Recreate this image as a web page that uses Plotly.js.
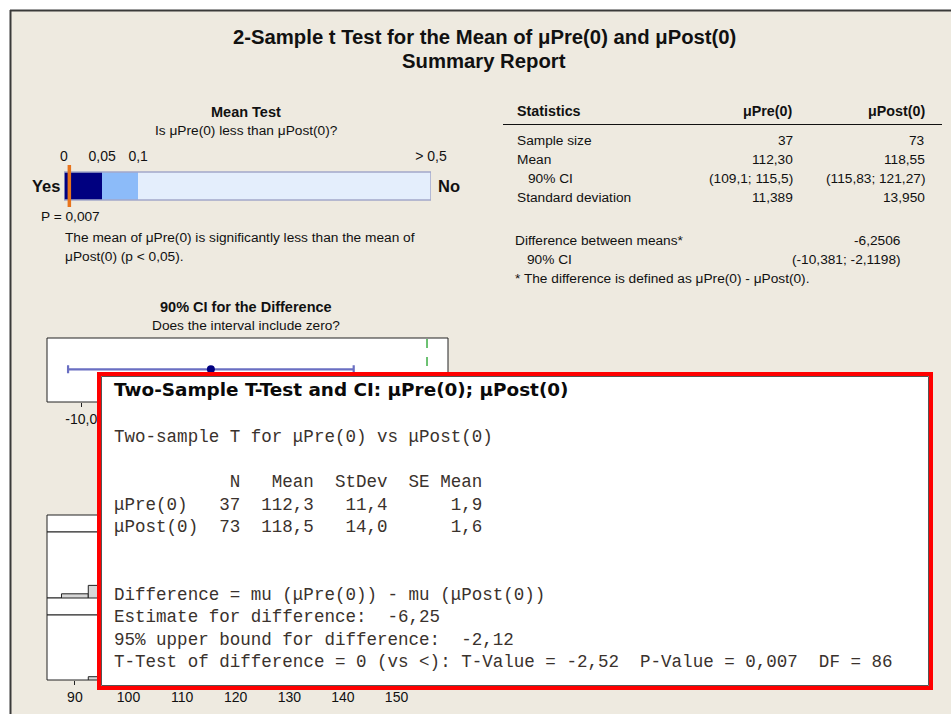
<!DOCTYPE html>
<html>
<head>
<meta charset="utf-8">
<script src="https://cdn.plot.ly/plotly-3.0.1.min.js"></script>
<style>html,body{margin:0;padding:0;background:#fff;}</style>
</head>
<body>
<div id="chart" style="width:951px;height:714px;"></div>
<script>
// ---------------- DATA ----------------
const pTicks = [0, 0.05, 0.1, 0.5];
const pTickLabels = ['0', '0,05', '0,1', '> 0,5'];
const pValue = 0.007;

const diffEstimate = -6.2506;
const diffCI = [-10.381, -2.1198];
const ciTickVals = [-10, -7.5, -5, -2.5, 0];
const ciTickText = ['-10,0', '-7,5', '-5,0', '-2,5', '0,0'];

const statHeaders = ['Statistics', 'μPre(0)', 'μPost(0)'];
const statLabels = ['Sample size', 'Mean', '90% CI', 'Standard deviation'];
const preStats = ['37', '112,30', '(109,1; 115,5)', '11,389'];
const postStats = ['73', '118,55', '(115,83; 121,27)', '13,950'];
const diffLabels = ['Difference between means*', '90% CI'];
const diffValues = ['-6,2506', '(-10,381; -2,1198)'];

const preHistBins = [90, 95];
const preHistCounts = [1, 3];
const postHistBins = [95];
const postHistCounts = [1];
const distTickVals = [90, 100, 110, 120, 130, 140, 150];

const sessionLines = [
  'Two-sample T for μPre(0) vs μPost(0)',
  '',
  '           N   Mean  StDev  SE Mean',
  'μPre(0)   37  112,3   11,4      1,9',
  'μPost(0)  73  118,5   14,0      1,6',
  '',
  '',
  'Difference = mu (μPre(0)) - mu (μPost(0))',
  'Estimate for difference:  -6,25',
  '95% upper bound for difference:  -2,12',
  'T-Test of difference = 0 (vs <): T-Value = -2,52  P-Value = 0,007  DF = 86'
];

// ---------------- LAYOUT HELPERS ----------------
const W = 951, H = 714;
const X = x => x / W;
const Y = y => 1 - y / H;
const SANS = 'Liberation Sans, Arial, sans-serif';
const MONO = 'Liberation Mono, Courier New, monospace';
const BEIGE = '#EEEAE0';
const BODY = 13.7;

// display scale of the p-value bar (Minitab's non-linear scale)
const pScale = [0, 0.104, 0.202, 1];
function pToPos(p) {
  for (let i = 0; i < pTicks.length - 1; i++) {
    if (p <= pTicks[i + 1]) {
      const t = (p - pTicks[i]) / (pTicks[i + 1] - pTicks[i]);
      return pScale[i] + t * (pScale[i + 1] - pScale[i]);
    }
  }
  return 1;
}

const annotations = [];
function ann(text, x, y, o) {
  o = o || {};
  annotations.push({
    text: text, x: X(x), y: Y(y), xref: 'paper', yref: 'paper',
    xanchor: o.anchor || 'left', yanchor: 'middle', showarrow: false,
    borderpad: 0,
    font: { family: o.family || SANS, size: o.size || BODY, color: o.color || '#111' }
  });
}
const b = t => '<b>' + t + '</b>';

// Title
ann(b('2-Sample t Test for the Mean of μPre(0) and μPost(0)'), 484, 37, { anchor: 'center', size: 20.3 });
ann(b('Summary Report'), 484, 61, { anchor: 'center', size: 20.3 });

// Mean test
ann(b('Mean Test'), 246, 112, { anchor: 'center', size: 14.5 });
ann('Is μPre(0) less than μPost(0)?', 246, 130, { anchor: 'center' });
ann(b('Yes'), 46, 186, { anchor: 'center', size: 16.5 });
ann(b('No'), 449, 186, { anchor: 'center', size: 16.5 });
ann('P = ' + String(pValue).replace('.', ','), 40, 216);
ann('The mean of μPre(0) is significantly less than the mean of', 64, 238);
ann('μPost(0) (p &lt; 0,05).', 64, 256);

// Statistics table
ann(b(statHeaders[0]), 516, 111, { size: 14.3 });
ann(b(statHeaders[1]), 794, 111, { anchor: 'right', size: 14.3 });
ann(b(statHeaders[2]), 926, 111, { anchor: 'right', size: 14.3 });
const rowY = [141, 159, 178, 197];
statLabels.forEach((l, i) => {
  ann(l, i === 2 ? 527 : 516, rowY[i]);
  ann(preStats[i], 794, rowY[i], { anchor: 'right' });
  ann(postStats[i], 926, rowY[i], { anchor: 'right' });
});
ann(diffLabels[0], 514, 240);
ann(diffValues[0], 902, 240, { anchor: 'right' });
ann(diffLabels[1], 526, 259);
ann(diffValues[1], 902, 259, { anchor: 'right' });
ann('* The difference is defined as μPre(0) - μPost(0).', 514, 279);

// CI section
ann(b('90% CI for the Difference'), 246, 307, { anchor: 'center', size: 14.5 });
ann('Does the interval include zero?', 246, 326, { anchor: 'center' });

// Session window overlay text
ann(b('Two-Sample T-Test and CI: μPre(0); μPost(0)'), 113, 390,
    { family: 'DejaVu Sans, Liberation Sans, sans-serif', size: 18.4, color: '#0a0a0a' });
const lineY0 = 437, lineStep = 22.5;
sessionLines.forEach((s, i) => {
  if (!s) return;
  ann(s.replace(/ /g, '\u00A0').replace(/</g, '&lt;'), 113, lineY0 + i * lineStep,
      { family: MONO, size: 17.55, color: '#3a322d' });
});

// ---------------- SHAPES ----------------
const shapes = [];
function rect(x0, y0, x1, y1, fill, line, lw, layer) {
  shapes.push({ type: 'rect', xref: 'paper', yref: 'paper', x0: X(x0), x1: X(x1), y0: Y(y1), y1: Y(y0),
    fillcolor: fill, line: { color: line || 'rgba(0,0,0,0)', width: lw || 0 }, layer: layer || 'below' });
}
function hline(x0, x1, y, color, w, layer) {
  shapes.push({ type: 'line', xref: 'paper', yref: 'paper', x0: X(x0), x1: X(x1), y0: Y(y), y1: Y(y),
    line: { color: color, width: w }, layer: layer || 'below' });
}
function vline(x, y0, y1, color, w, layer) {
  shapes.push({ type: 'line', xref: 'paper', yref: 'paper', x0: X(x), x1: X(x), y0: Y(y0), y1: Y(y1),
    line: { color: color, width: w }, layer: layer || 'below' });
}
// white margins outside the report panel
rect(0, 0, 951, 10, '#ffffff');
rect(0, 0, 10, 714, '#ffffff');
hline(10, 951, 10.5, '#3a3a3a', 2);
vline(10.5, 10, 714, '#3a3a3a', 2);

// statistics header rule
hline(503, 942, 124.5, '#111', 1);

// CI plot box
rect(47, 338, 448, 402, '#ffffff', '#222', 1);
// zero reference
shapes.push({ type: 'line', xref: 'x2', yref: 'paper', x0: 0, x1: 0, y0: Y(402), y1: Y(338),
  line: { color: '#3DAE45', width: 1.5, dash: 'dash' }, layer: 'below' });

// Distribution panel boxes
rect(47, 515, 448, 532, '#ffffff', '#222', 1);
rect(47, 532, 448, 598, '#ffffff', '#222', 1);
rect(47, 598, 448, 615, '#ffffff', '#222', 1);
rect(47, 615, 448, 680, '#ffffff', '#222', 1);

// Session window overlay (on top)
rect(99, 374, 931, 688, '#ffffff', '#FF0000', 4, 'above');
rect(101.5, 376.5, 928.5, 685.5, 'rgba(0,0,0,0)', '#555555', 1, 'above');

// ---------------- TRACES ----------------
const traces = [];
// Mean test bar segments
const segBase = [], segLen = [], segY = [];
for (let i = 0; i < pTicks.length - 1; i++) {
  segBase.push(pToPos(pTicks[i]));
  segLen.push(pToPos(pTicks[i + 1]) - pToPos(pTicks[i]));
  segY.push(0);
}
traces.push({
  type: 'bar', orientation: 'h', xaxis: 'x', yaxis: 'y',
  y: segY, x: segLen, base: segBase, width: 1,
  marker: { color: ['#000080', '#8CBBF9', '#E4EEFC'], line: { width: 0 } },
  hoverinfo: 'skip'
});
traces.push({
  type: 'bar', orientation: 'h', xaxis: 'x', yaxis: 'y',
  y: [0], x: [pToPos(pTicks[pTicks.length - 1])], base: [0], width: 1,
  marker: { color: 'rgba(0,0,0,0)', line: { color: '#A3A8C9', width: 1.5 } },
  hoverinfo: 'skip'
});
traces.push({
  type: 'scatter', mode: 'lines', xaxis: 'x', yaxis: 'y',
  x: [pToPos(pValue), pToPos(pValue)], y: [-0.75, 0.75],
  line: { color: '#E8741C', width: 3.5 }, hoverinfo: 'skip'
});

// CI for difference
traces.push({
  type: 'scatter', mode: 'markers', xaxis: 'x2', yaxis: 'y2',
  x: [diffEstimate], y: [0],
  marker: { color: '#000080', size: 8 },
  error_x: { type: 'data', symmetric: false,
    array: [diffCI[1] - diffEstimate], arrayminus: [diffEstimate - diffCI[0]],
    color: '#6A6FC2', thickness: 2.2, width: 4 },
  hoverinfo: 'skip'
});

// Histograms
traces.push({
  type: 'bar', xaxis: 'x3', yaxis: 'y4', x: preHistBins, y: preHistCounts, width: 5,
  marker: { color: '#D6D6D6', line: { color: '#222', width: 1 } }, hoverinfo: 'skip'
});
traces.push({
  type: 'bar', xaxis: 'x3', yaxis: 'y6', x: postHistBins, y: postHistCounts, width: 5,
  marker: { color: '#D6D6D6', line: { color: '#222', width: 1 } }, hoverinfo: 'skip'
});

const tickFont = { family: SANS, size: 14, color: '#111' };
const layout = {
  width: W, height: H,
  margin: { l: 0, r: 0, t: 0, b: 0, pad: 0 },
  paper_bgcolor: BEIGE, plot_bgcolor: 'rgba(0,0,0,0)',
  showlegend: false, barmode: 'overlay', bargap: 0,
  font: { family: SANS, size: 13, color: '#111' },
  xaxis: {
    domain: [X(64), X(431)], range: [0, 1], anchor: 'y', side: 'top',
    tickmode: 'array', tickvals: pTicks.map(pToPos), ticktext: pTickLabels,
    ticks: '', showgrid: false, zeroline: false, showline: false,
    tickfont: tickFont, ticklabelstandoff: 0, fixedrange: true
  },
  yaxis: { domain: [Y(207), Y(165)], range: [-0.75, 0.75], visible: false, fixedrange: true },
  xaxis2: {
    domain: [X(47), X(448)], range: [-10.99, 0.607], anchor: 'y2',
    tickmode: 'array', tickvals: ciTickVals, ticktext: ciTickText,
    ticks: 'outside', ticklen: 4, tickcolor: '#222', showgrid: false, zeroline: false, showline: false,
    tickfont: tickFont, fixedrange: true
  },
  yaxis2: { domain: [Y(402), Y(338)], range: [-1.04, 1], visible: false, fixedrange: true },
  xaxis3: {
    domain: [X(47), X(448)], range: [84.8, 159.6], anchor: 'y6',
    tickmode: 'array', tickvals: distTickVals,
    ticks: 'outside', ticklen: 4, tickcolor: '#222', showgrid: false, zeroline: false, showline: false,
    tickfont: tickFont, fixedrange: true
  },
  yaxis4: { domain: [Y(598), Y(532)], range: [0, 15.7], anchor: 'x3', visible: false, fixedrange: true },
  yaxis6: { domain: [Y(680), Y(615)], range: [0, 19.7], anchor: 'x3', visible: false, fixedrange: true },
  shapes: shapes,
  annotations: annotations
};

Plotly.newPlot('chart', traces, layout, { staticPlot: true, displayModeBar: false });
</script>
</body>
</html>
